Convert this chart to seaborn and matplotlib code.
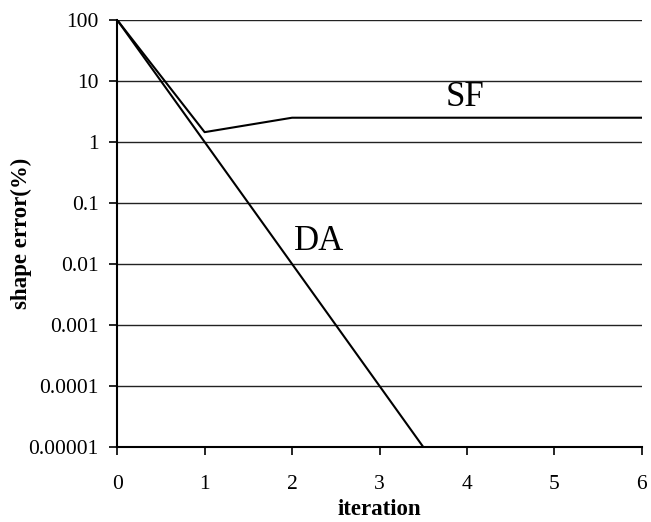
import matplotlib
matplotlib.use("Agg")
import matplotlib.pyplot as plt
import matplotlib.ticker as mticker
import seaborn as sns
import pandas as pd

sf_x = [0, 1, 2, 3, 4, 5, 6]
sf_y = [100, 1.45, 2.5, 2.5, 2.5, 2.5, 2.5]
da_x = [0, 1, 2, 3, 3.5]
da_y = [100, 1, 0.01, 0.0001, 0.00001]
ytick_vals = [100, 10, 1, 0.1, 0.01, 0.001, 0.0001, 0.00001]
ytick_labels = ["100", "10", "1", "0.1", "0.01", "0.001", "0.0001", "0.00001"]
xtick_vals = [0, 1, 2, 3, 4, 5, 6]

df = pd.concat([
    pd.DataFrame({"iteration": sf_x, "err": sf_y, "method": "SF"}),
    pd.DataFrame({"iteration": da_x, "err": da_y, "method": "DA"}),
])

sns.set_theme(style="white")
plt.rcParams["font.family"] = ["Liberation Serif", "DejaVu Serif"]

fig = plt.figure(figsize=(6.51, 5.22), dpi=100)
ax = fig.add_axes([0.18, 0.1437, 0.806, 0.818])

sns.lineplot(data=df, x="iteration", y="err", hue="method", palette={"SF": "black", "DA": "black"},
             linewidth=1.5, legend=False, ax=ax, sort=False)

ax.set_yscale("log")
ax.set_ylim(0.00001, 100)
ax.set_xlim(0, 6)
ax.yaxis.set_major_locator(mticker.FixedLocator(ytick_vals))
ax.yaxis.set_major_formatter(mticker.FixedFormatter(ytick_labels))
ax.yaxis.set_minor_locator(mticker.NullLocator())
ax.set_xticks(xtick_vals)
ax.set_xticklabels([str(v) for v in xtick_vals])

for v in ytick_vals[:-1]:
    ax.axhline(v, color="#222222", linewidth=1.0, zorder=0)

for s in ["top", "right"]:
    ax.spines[s].set_visible(False)
for s in ["left", "bottom"]:
    ax.spines[s].set_color("black")
    ax.spines[s].set_linewidth(1.5)

ax.tick_params(axis="both", which="major", direction="out", length=5.5, width=1.2,
               color="black", labelsize=15.5, labelcolor="black")
ax.tick_params(axis="y", pad=8)
ax.tick_params(axis="x", pad=15)
ax.tick_params(left=True, bottom=True)

ax.set_xlabel("iteration", fontsize=16.5, fontweight="bold", color="black", labelpad=3)
ax.set_ylabel("shape error(%)", fontsize=16.5, fontweight="bold", color="black")
ax.yaxis.set_label_coords(-0.162, 0.5)

ax.text(3.98, 2.85, "SF", fontsize=25, color="black", ha="center", va="bottom")
ax.text(2.31, 0.023, "DA", fontsize=25, color="black", ha="center", va="center")

fig.savefig("out.png", dpi=100)
